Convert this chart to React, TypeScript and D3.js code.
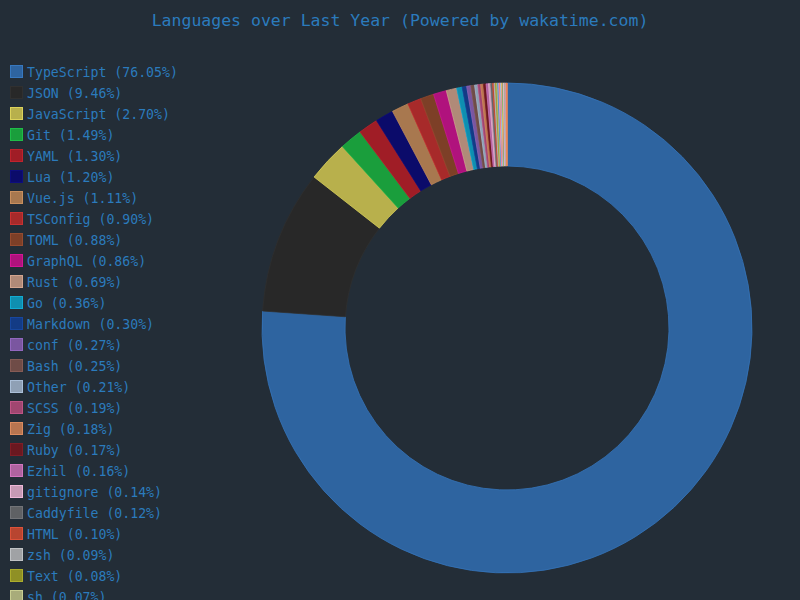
import React from "react";
import * as d3 from "d3";

const languages = [
  "TypeScript", "JSON", "JavaScript", "Git", "YAML", "Lua", "Vue.js", "TSConfig", "TOML", "GraphQL",
  "Rust", "Go", "Markdown", "conf", "Bash", "Other", "SCSS", "Zig", "Ruby", "Ezhil",
  "gitignore", "Caddyfile", "HTML", "zsh", "Text", "sh",
  "Python", "Docker", "INI", "Nix", "CSS", "Svelte", "Makefile", "XML", "Java", "C",
  "C++", "SQL", "PowerShell", "Batchfile", "Kotlin", "Swift", "Lisp", "Prisma", "Astro",
];
const percents = [
  76.05, 9.46, 2.70, 1.49, 1.30, 1.20, 1.11, 0.90, 0.88, 0.86,
  0.69, 0.36, 0.30, 0.27, 0.25, 0.21, 0.19, 0.18, 0.17, 0.16,
  0.14, 0.12, 0.10, 0.09, 0.08, 0.07,
  0.06, 0.06, 0.05, 0.05, 0.04, 0.04, 0.04, 0.03, 0.03, 0.03,
  0.03, 0.02, 0.02, 0.02, 0.02, 0.02, 0.02, 0.01, 0.01,
];
const colors = [
  "#2e64a0", "#282828", "#b8b04c", "#1a9e3c", "#a01d26", "#0b0b6a", "#a8784f", "#a72a2a", "#7d3f27", "#b0127d",
  "#b08a78", "#0f8fb0", "#133b85", "#7a56a0", "#6f4c47", "#8fa0b5", "#a04670", "#b87550", "#6a1820", "#b063a0",
  "#c79ab5", "#5f6164", "#b84530", "#a0a2a5", "#8f9025", "#a8ac7a",
  "#3a7fc0", "#d08ab0", "#e06a50", "#7ec0d0", "#c060a0", "#e0c040", "#50a070", "#d07040", "#b0b0b0", "#e090b0",
  "#60a0d0", "#f0a040", "#4080c0", "#c0d060", "#a070c0", "#e07070", "#70b0a0", "#e0b060", "#d06040",
];
// Number of legend rows that fit in the visible canvas (the rest are clipped in the reference)
const visibleLegendCount = 26;

const WIDTH = 800;
const HEIGHT = 600;
const BG = "#232d37";
const TEXT = "#2b7bbd";
const FONT = "'DejaVu Sans Mono', monospace";

export default function App() {
  const data = languages.map((name, i) => ({ name, value: percents[i], color: colors[i] }));
  const pie = d3.pie<any>().sort(null).value((d: any) => d.value);
  const arcs = pie(data);
  const cx = 507;
  const cy = 328;
  const outer = 245;
  const inner = 162;
  const arc = d3.arc<any>().innerRadius(inner).outerRadius(outer);
  const legendY = d3.scaleLinear().domain([0, 1]).range([72, 93]);

  return (
    <div style={{ position: "fixed", left: 0, top: 0, width: WIDTH, height: HEIGHT, overflow: "hidden", background: BG }}>
      <svg width={WIDTH} height={HEIGHT} style={{ display: "block", background: BG }}>
        <rect x={0} y={0} width={WIDTH} height={HEIGHT} fill={BG} />
        <text x={400} y={26} textAnchor="middle" fill={TEXT} fontFamily={FONT} fontSize={16.5}>
          Languages over Last Year (Powered by wakatime.com)
        </text>
        <g transform={`translate(${cx},${cy})`}>
          {arcs.map((a, i) => (
            <path
              key={i}
              d={arc(a) as string}
              fill={a.data.color}
              stroke={d3.color(a.data.color)!.brighter(0.4).formatHex()}
              strokeWidth={0.8}
            />
          ))}
        </g>
        <g>
          {data.slice(0, visibleLegendCount).map((d, i) => {
            const y = legendY(i);
            return (
              <g key={i}>
                <rect
                  x={10.5}
                  y={y - 6.5}
                  width={12}
                  height={12}
                  fill={d.color}
                  stroke={d3.color(d.color)!.brighter(0.5).formatHex()}
                  strokeWidth={1}
                />
                <text x={27} y={y + 5} fill={TEXT} fontFamily={FONT} fontSize={13.2}>
                  {`${d.name} (${d.value.toFixed(2)}%)`}
                </text>
              </g>
            );
          })}
        </g>
      </svg>
    </div>
  );
}
